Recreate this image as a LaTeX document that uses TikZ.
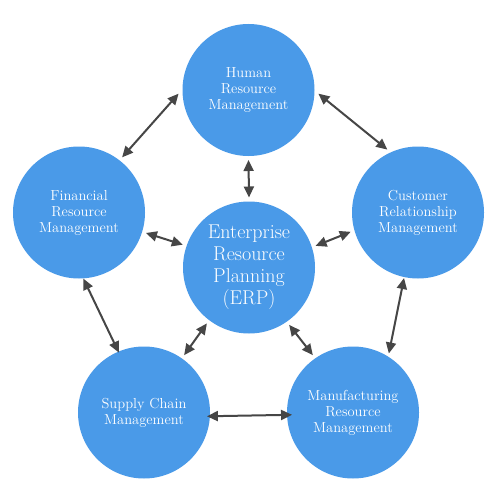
\documentclass[tikz,border=0pt]{standalone}
\usetikzlibrary{arrows.meta}
\definecolor{erpblue}{RGB}{74,154,232}
\definecolor{arrowgray}{RGB}{70,70,70}
\begin{document}
\begin{tikzpicture}[x=1pt,y=-1pt,
  module/.style={circle,fill=erpblue,minimum size=132pt,inner sep=0pt,outer sep=4pt,
    text=white,align=center,font=\fontsize{14.5}{16}\selectfont},
  core/.style={module,font=\fontsize{20}{22}\selectfont},
  link/.style={draw=arrowgray,line width=2pt,
    {Triangle[length=11pt,width=10pt]}-{Triangle[length=11pt,width=10pt]}}]
\useasboundingbox[fill=white] (0,0) rectangle (500,500);
\node[module] (hr) at (248.5,90) {Human\\Resource\\Management};
\node[module] (fr) at (79,212.5) {Financial\\Resource\\Management};
\node[module] (cr) at (418,212.5) {Customer\\Relationship\\Management};
\node[core] (erp) at (249,267.5) {Enterprise\\Resource\\Planning\\(ERP)};
\node[module] (sc) at (144,412.5) {Supply Chain\\Management};
\node[module] (mr) at (353,412.5) {Manufacturing\\Resource\\Management};
\draw[link] (hr.183) -- (fr.52);
\draw[link] (hr.357.6) -- (cr.116.4);
\draw[link] (hr.270) -- (erp.90);
\draw[link] (fr.343) -- (erp.161.4);
\draw[link] (cr.196.8) -- (erp.18.3);
\draw[link,shorten <=-4pt,shorten >=-5pt] (fr.275.2) -- (sc.113.6);
\draw[link,shorten <=-3pt,shorten >=-1pt] (cr.258.8) -- (mr.59.5);
\draw[link] (erp.233.9) -- (sc.55);
\draw[link] (erp.305.5) -- (mr.125);
\draw[link,shorten <=-7pt,shorten >=-9pt] (sc.357.7) -- (mr.182.3);
\end{tikzpicture}
\end{document}
